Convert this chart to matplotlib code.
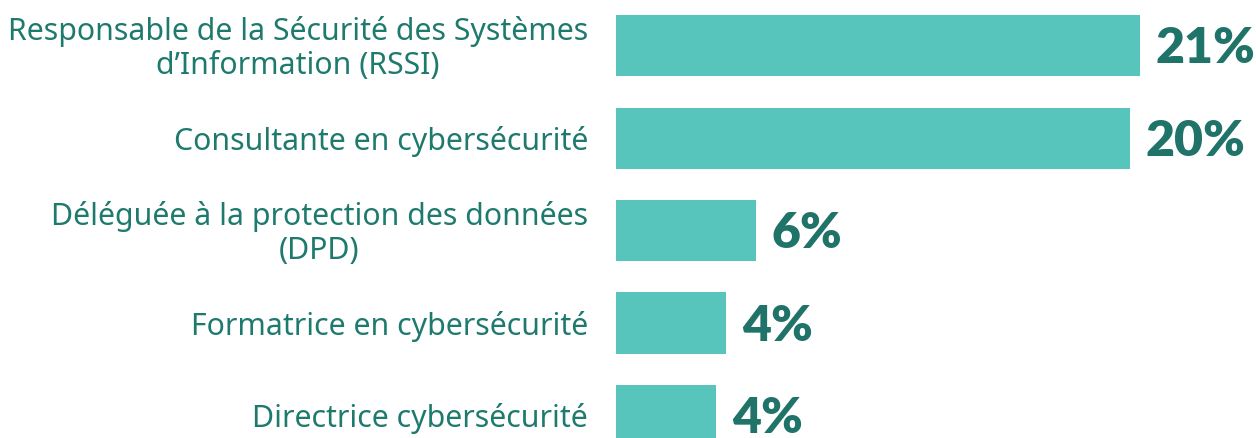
import matplotlib.pyplot as plt
from matplotlib.transforms import offset_copy

# roles and shares (bar lengths, labels as printed)
roles = ["Responsable de la Sécurité des Systèmes\nd’Information (RSSI)",
         "Consultante en cybersécurité",
         "Déléguée à la protection des données\n(DPD)",
         "Formatrice en cybersécurité",
         "Directrice cybersécurité"]
shares = [21.0, 20.6, 5.6, 4.4, 4.0]
share_labels = ["21%", "20%", "6%", "4%", "4%"]

bar_color = "#57c5bb"
text_color = "#1f7a6e"
value_color = "#1f7369"

W, H = 1256, 439
fig = plt.figure(figsize=(W/100, H/100), dpi=100)
# axes from x=616px to right edge, full height
ax = fig.add_axes([616/W, 0, 1 - 616/W, 1])
ax.barh(range(len(roles)), shares, height=0.66, color=bar_color)
ax.set_xlim(0, 640/24.95)
ax.set_ylim(4.243, -0.503)
ax.axis("off")

for i, (v, lab) in enumerate(zip(shares, share_labels)):
    tr = offset_copy(ax.transData, fig=fig, x=16, y=-2, units="dots")
    ax.text(v, i, lab, transform=tr, ha="left", va="center", fontsize=36,
            fontweight="heavy", family="Lato", color=value_color)

for i, r in enumerate(roles):
    tr = offset_copy(ax.transData, fig=fig, x=-28, y=-2, units="dots")
    ax.text(0, i, r, transform=tr, ha="right", va="center", fontsize=21.8,
            family="Noto Sans", color=text_color, linespacing=1.15,
            multialignment="center")

fig.savefig("out.png", dpi=100)
